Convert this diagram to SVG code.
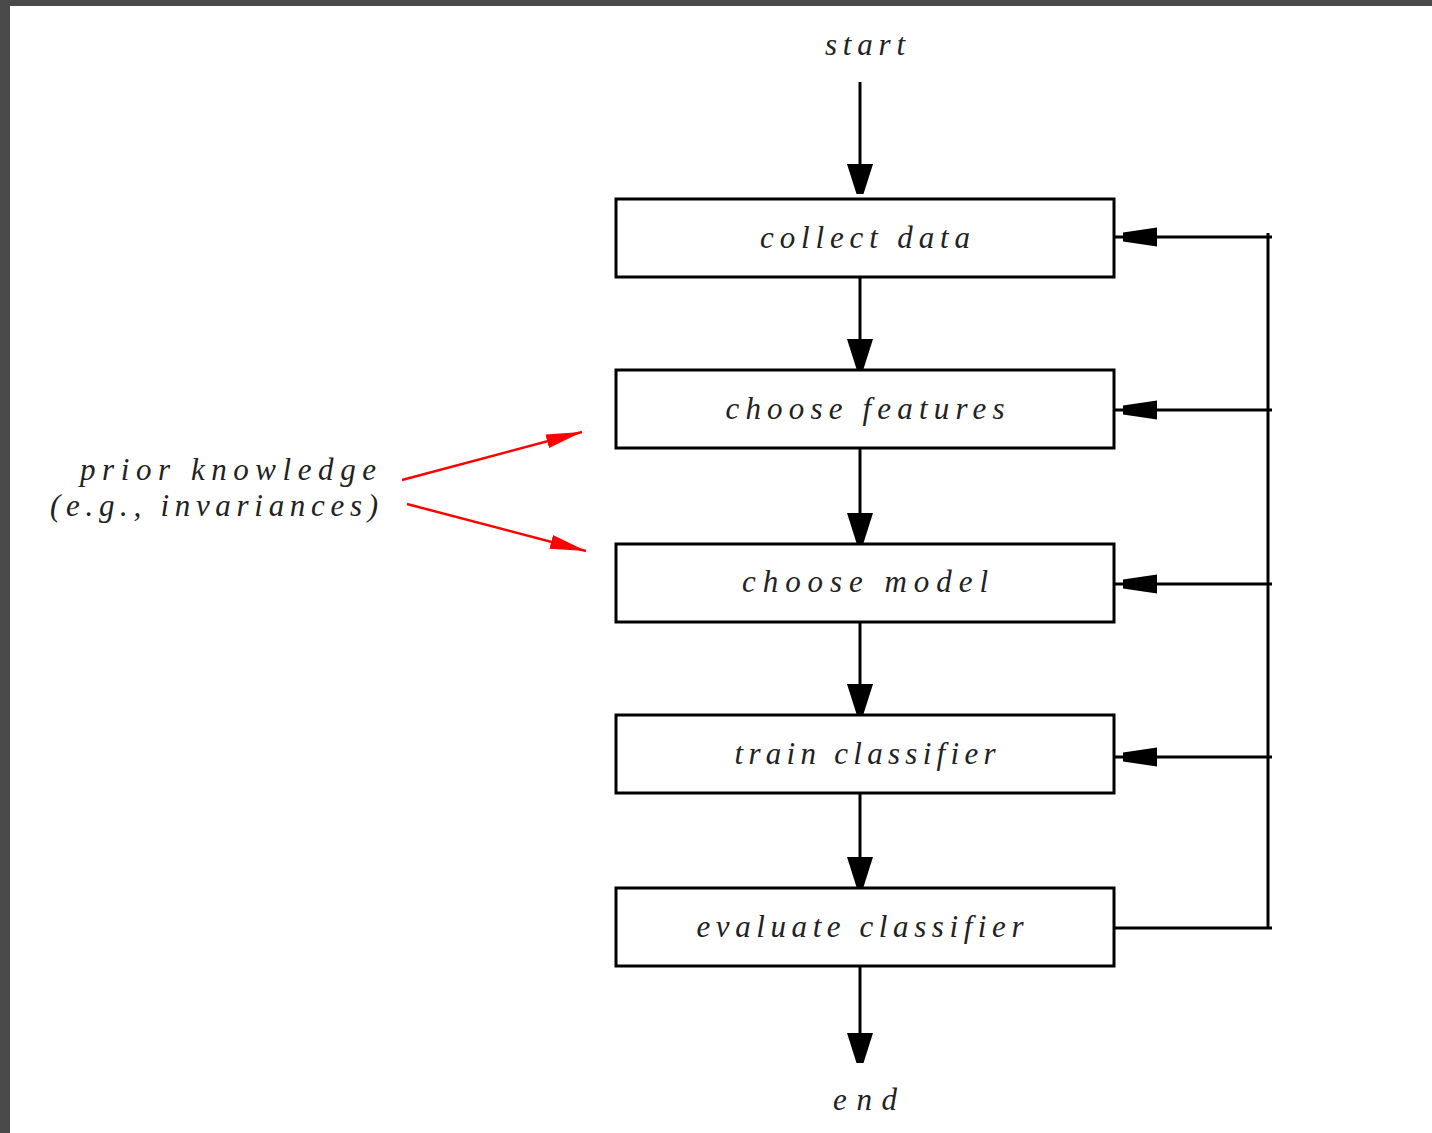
<svg xmlns="http://www.w3.org/2000/svg" width="1432" height="1133" viewBox="0 0 1432 1133">
<defs>
<style>
.box{fill:#fff;stroke:#000;stroke-width:3}
.ln{stroke:#000;stroke-width:3;fill:none}
.red{stroke:#f00;stroke-width:2.5;fill:none}
text{font-family:"Liberation Serif","Times New Roman",serif;font-style:italic;font-size:31px;fill:#222}
.c{text-anchor:middle}
</style>
<polygon id="ad" points="-13,-30 13,-30 3.5,0 -3.5,0" fill="#000"/>
<polygon id="al" points="0,-4.5 34,-9.5 34,9.5 0,4.5" fill="#000"/>
<marker id="rh" viewBox="0 0 36 14" refX="36" refY="7" markerWidth="36" markerHeight="14" markerUnits="userSpaceOnUse" orient="auto">
<polygon points="0,0 36,7 0,14" fill="#f00"/>
</marker>
</defs>
<rect x="0" y="0" width="1432" height="1133" fill="#fff"/>
<rect x="0" y="0" width="1432" height="6" fill="#4a4a4a"/>
<rect x="0" y="0" width="10" height="1133" fill="#4a4a4a"/>

<g id="connectors">
<line class="ln" x1="860" y1="82" x2="860" y2="170"/>
<use href="#ad" x="860" y="194"/>
<line class="ln" x1="860" y1="277" x2="860" y2="348"/>
<use href="#ad" x="860" y="369"/>
<line class="ln" x1="860" y1="448" x2="860" y2="520"/>
<use href="#ad" x="860" y="543"/>
<line class="ln" x1="860" y1="622" x2="860" y2="690"/>
<use href="#ad" x="860" y="714"/>
<line class="ln" x1="860" y1="793" x2="860" y2="862"/>
<use href="#ad" x="860" y="887"/>
<line class="ln" x1="860" y1="966" x2="860" y2="1036"/>
<use href="#ad" x="860" y="1063"/>
<line class="ln" x1="1268" y1="233" x2="1268" y2="929"/>
<line class="ln" x1="1114" y1="928" x2="1272" y2="928"/>
<line class="ln" x1="1114" y1="237" x2="1272" y2="237"/>
<use href="#al" x="1123" y="237"/>
<line class="ln" x1="1114" y1="410" x2="1272" y2="410"/>
<use href="#al" x="1123" y="410"/>
<line class="ln" x1="1114" y1="584" x2="1272" y2="584"/>
<use href="#al" x="1123" y="584"/>
<line class="ln" x1="1114" y1="757" x2="1272" y2="757"/>
<use href="#al" x="1123" y="757"/>
<line class="red" x1="402" y1="480" x2="582" y2="432" marker-end="url(#rh)"/>
<line class="red" x1="407" y1="504" x2="586" y2="551" marker-end="url(#rh)"/>
</g>

<g id="start"><text class="c" x="865" y="55" textLength="80" lengthAdjust="spacing">start</text></g>
<g id="collect-data"><rect class="box" x="616" y="199" width="498" height="78"/><text class="c" x="865" y="248" textLength="210" lengthAdjust="spacing">collect data</text></g>
<g id="choose-features"><rect class="box" x="616" y="370" width="498" height="78"/><text class="c" x="865" y="419" textLength="279" lengthAdjust="spacing">choose features</text></g>
<g id="choose-model"><rect class="box" x="616" y="544" width="498" height="78"/><text class="c" x="865" y="592" textLength="246" lengthAdjust="spacing">choose model</text></g>
<g id="train-classifier"><rect class="box" x="616" y="715" width="498" height="78"/><text class="c" x="865" y="764" textLength="261" lengthAdjust="spacing">train classifier</text></g>
<g id="evaluate-classifier"><rect class="box" x="616" y="888" width="498" height="78"/><text class="c" x="860" y="937" textLength="327" lengthAdjust="spacing">evaluate classifier</text></g>
<g id="end"><text class="c" x="865" y="1110" textLength="64" lengthAdjust="spacing">end</text></g>
<g id="prior-knowledge">
<text x="80" y="480" textLength="296" lengthAdjust="spacing">prior knowledge</text>
<text x="50" y="516" textLength="328" lengthAdjust="spacing">(e.g., invariances)</text>
</g>
</svg>
